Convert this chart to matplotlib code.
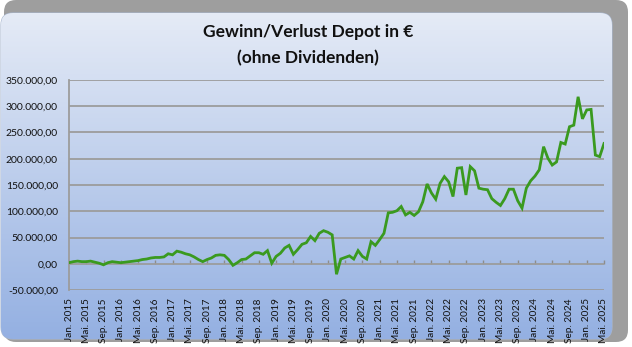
import numpy as np
import matplotlib.pyplot as plt
from matplotlib.patches import FancyBboxPatch
from matplotlib.ticker import FuncFormatter, MultipleLocator

# monthly profit/loss of the depot in thousand euros, Jan 2015 .. May 2025
gain_2015 = [2, 4, 5, 4, 4, 5, 3, 1, -2, 2, 4, 3]
gain_2016 = [2, 3, 4, 5, 6, 8, 9, 11, 12, 12, 13, 19]
gain_2017 = [17, 24, 22, 19, 17, 13, 8, 4, 8, 11, 16, 17]
gain_2018 = [16, 8, -3, 2, 8, 9, 15, 21, 21, 18, 25, 1]
gain_2019 = [14, 20, 30, 35, 18, 27, 37, 40, 52, 44, 58, 63]
gain_2020 = [60, 55, -20, 9, 12, 15, 9, 25, 14, 9, 42, 35]
gain_2021 = [46, 58, 97, 98, 101, 109, 93, 98, 92, 99, 118, 152]
gain_2022 = [135, 123, 153, 166, 156, 128, 182, 183, 131, 185, 177, 144]
gain_2023 = [142, 141, 124, 117, 111, 124, 142, 142, 120, 106, 144, 158]
gain_2024 = [167, 179, 223, 201, 188, 194, 231, 228, 261, 264, 318, 276]
gain_2025 = [293, 294, 207, 204, 229]

years = range(2015, 2026)
month_names = ["Jan.", "Feb.", "Mär.", "Apr.", "Mai.", "Jun.",
               "Jul.", "Aug.", "Sep.", "Okt.", "Nov.", "Dez."]

gain = np.array(gain_2015 + gain_2016 + gain_2017 + gain_2018 + gain_2019 +
                gain_2020 + gain_2021 + gain_2022 + gain_2023 + gain_2024 +
                gain_2025) * 1000.0
months = [f"{m} {y}" for y in years for m in month_names][:len(gain)]

plt.rcParams['font.family'] = ['Lato', 'DejaVu Sans']

W, H = 632, 347
fig = plt.figure(figsize=(W / 100, H / 100), dpi=100)

# background: shadow + rounded panel with blue gradient
bg = fig.add_axes([0, 0, 1, 1])
bg.set_xlim(0, W)
bg.set_ylim(H, 0)
bg.axis('off')

shadow = FancyBboxPatch((4, 0), 624, 342, boxstyle="round,pad=0,rounding_size=12",
                        fc='#9e9e9e', ec='none')
bg.add_patch(shadow)

panel = FancyBboxPatch((1, 13), 611, 326, boxstyle="round,pad=0,rounding_size=12",
                       fc='none', ec='#a9b8d0', lw=0.8)
bg.add_patch(panel)
top = np.array([229, 235, 246]) / 255
bottom = np.array([148, 176, 226]) / 255
t = np.linspace(0, 1, 256)[:, None]
grad = (top * (1 - t) + bottom * t)[:, None, :]
img = bg.imshow(grad, extent=[1, 612, 339, 13], aspect='auto', zorder=1)
img.set_clip_path(panel)

# chart
ax = fig.add_axes([69 / W, 1 - 290 / H, 535 / W, 210 / H])
ax.patch.set_alpha(0)
x = np.arange(len(gain))
ax.plot(x, gain, color='#3a9a1f', lw=2.0, solid_joinstyle='miter', zorder=3)

ax.set_xlim(0, len(gain) - 1)
ax.set_ylim(-50000, 350000)
ax.yaxis.set_major_locator(MultipleLocator(50000))
ax.yaxis.set_major_formatter(FuncFormatter(
    lambda v, p: f"{v:,.2f}".replace(",", "X").replace(".", ",").replace("X", ".")))
ax.grid(axis='y', color='#9c9c9c', lw=1.3)
ax.set_axisbelow(True)

for s in ['top', 'right', 'bottom']:
    ax.spines[s].set_visible(False)
ax.spines['left'].set_color('#9c9c9c')
ax.spines['left'].set_linewidth(1.3)
ax.tick_params(axis='y', length=0, pad=8, labelsize=7.5, labelcolor='#111111')

ax.set_xticks(x[::4])
ax.set_xticklabels(months[::4], rotation=90, fontsize=7.2, color='#111111')
ax.tick_params(axis='x', length=0, pad=6)

# category axis crossing at zero with small tick marks
zero_axis = ax.secondary_xaxis(50000 / 400000)
zero_axis.set_xticks(x[::4])
zero_axis.set_xticklabels([])
zero_axis.tick_params(direction='in', length=3, color='#8c8c8c', width=1)
zero_axis.spines['bottom'].set_visible(False)
zero_axis.spines['top'].set_visible(False)

fig.text(308 / W, 1 - 32 / H, "Gewinn/Verlust Depot in €", ha='center', va='center',
         fontsize=12.5, fontweight='bold', color='#111111')
fig.text(308 / W, 1 - 58 / H, "(ohne Dividenden)", ha='center', va='center',
         fontsize=12.5, fontweight='bold', color='#111111')

fig.savefig('out.png', dpi=100)
